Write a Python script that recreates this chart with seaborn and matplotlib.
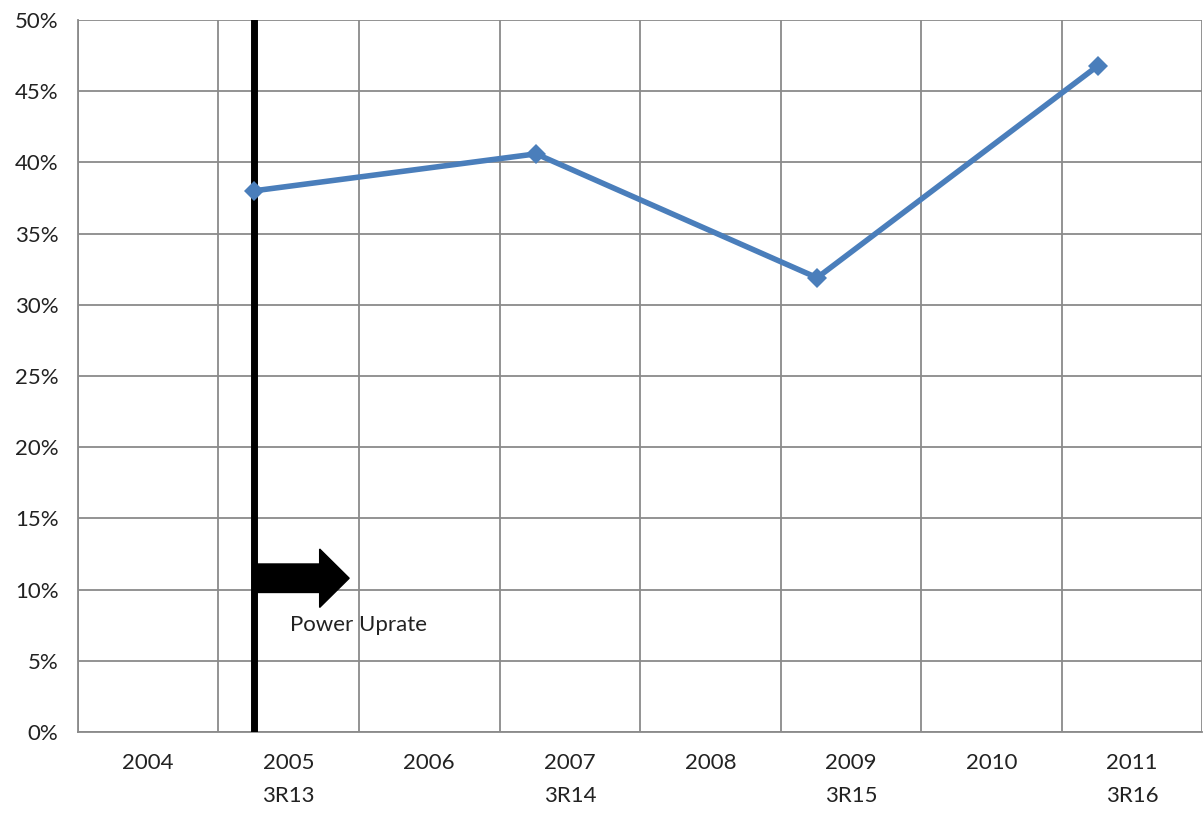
import matplotlib
matplotlib.use("Agg")
import matplotlib.pyplot as plt
from matplotlib.ticker import FixedLocator, PercentFormatter
import seaborn as sns

# category axis (one cell per year) and the refuelling outage labels
years = [2004, 2005, 2006, 2007, 2008, 2009, 2010, 2011]
outages = ["", "3R13", "", "3R14", "", "3R15", "", "3R16"]

# measured points (date as fractional year, value in %)
outage_dates = [2005.25, 2007.26, 2009.26, 2011.26]
outage_values = [38.0, 40.6, 31.9, 46.8]

# power uprate marker
uprate_date = 2005.25
uprate_label = "Power Uprate"

sns.set_style("white")
plt.rcParams["font.family"] = ["Lato", "DejaVu Sans"]

fig = plt.figure(figsize=(12.03, 8.13), dpi=100)
ax = fig.add_axes([0.0648, 0.0996, 0.9345, 0.8758])

grid_col = "#8a8a8a"

# year grid: boundaries as minor ticks, labels at cell centres
ax.set_xlim(years[0], years[-1] + 1)
ax.xaxis.set_minor_locator(FixedLocator([y for y in years] + [years[-1] + 1]))
ax.set_xticks([y + 0.5 for y in years])
ax.set_xticklabels([f"{y}\n{o}" if o else str(y) for y, o in zip(years, outages)])
for lab in ax.get_xticklabels():
    lab.set_linespacing(1.8)
    lab.set_verticalalignment("top")
ax.tick_params(axis="x", which="both", length=0, pad=15, labelsize=16, colors="#222222")

ax.set_ylim(0, 50)
ax.set_yticks(range(0, 51, 5))
ax.yaxis.set_major_formatter(PercentFormatter(decimals=0))
ax.tick_params(axis="y", length=8, width=1.2, color=grid_col, pad=6,
               labelsize=16, labelcolor="#222222")
ax.tick_params(axis="y", which="minor", length=0)

ax.grid(axis="y", which="major", color=grid_col, lw=1.3)
ax.grid(axis="x", which="minor", color=grid_col, lw=1.3)
ax.grid(axis="x", which="major", visible=False)
ax.set_axisbelow(True)

for side in ["top", "right"]:
    ax.spines[side].set_visible(False)
for side in ["left", "bottom"]:
    ax.spines[side].set_color(grid_col)
    ax.spines[side].set_linewidth(1.3)

# uprate line and arrow
ax.axvline(uprate_date, color="black", lw=5, zorder=3)
ax.arrow(uprate_date, 10.8, 0.68, 0, width=2.0, head_width=4.1,
         head_length=0.21, length_includes_head=True, color="black", zorder=3)
ax.text(uprate_date + 0.26, 7.5, uprate_label, fontsize=16, color="#222222",
        va="center", ha="left")

sns.lineplot(x=outage_dates, y=outage_values, ax=ax, color="#4a7ebb", lw=4,
             marker="D", markersize=10, markeredgewidth=0, zorder=4)

ax.set_xlabel("")
ax.set_ylabel("")

fig.savefig("out.png", dpi=100)
